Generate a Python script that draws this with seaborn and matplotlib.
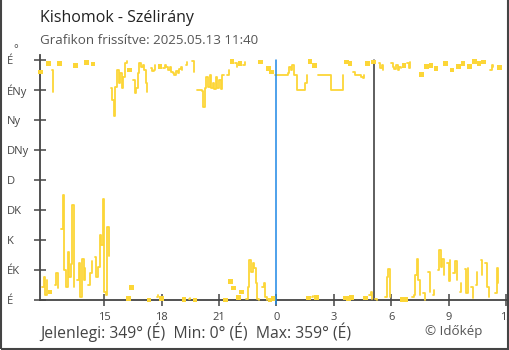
import numpy as np
import pandas as pd
import matplotlib
matplotlib.use("Agg")
import matplotlib.pyplot as plt
import seaborn as sns
from matplotlib.patches import Rectangle

# ---------------- data ----------------
start_hour = 11 + 40 / 60          # first reading 11:40 (previous day)
step_minutes = 5
direction = [
    # 11:40
    342, 20, 35, 8, 30, 355, 12, 345, 312, 22, 40, 18,
    # 12:40
    355, 107, 158, 45, 20, 72, 35, 54, 143, 20, 352, 30,
    # 13:40
    55, 5, 62, 30, 48, 356, 22, 40, 58, 354, 65, 35,
    # 14:40
    50, 97, 82, 152, 12, 8, 110, 66, 318, 300, 276, 320,
    # 15:40
    345, 325, 340, 318, 335, 355, 358, 2, 345, 19, 330, 310,
    # 16:40
    318, 340, 355, 350, 352, 345, 325, 312, 0, 348, 343, 345,
    # 17:40
    352, 5, 8, 350, 2, 348, 352, 350, 345, 349, 342, 340,
    # 18:40
    338, 343, 340, 346, 350, 345, 1, 352, 357, 1, 3, 358,
    # 19:40
    342, 0, 315, 315, 315, 314, 290, 318, 335, 320, 338, 318,
    # 20:40
    325, 316, 335, 318, 330, 316, 337, 337, 0, 337, 345, 28,
    # 21:40
    358, 18, 355, 350, 4, 355, 12, 352, 357, 2, 20, 60,
    # 22:40
    42, 55, 48, 25, 2, 0, 357, 20, 25, 5, 0, 347,
    # 23:40
    0, 342, 2, 337, 337, 337, 337, 337, 337, 337, 337, 340,
    # 00:40
    350, 345, 352, 337, 337, 315, 315, 315, 315, 315, 325, 337,
    # 01:40
    3, 358, 5, 6, 352, 4, 337, 337, 337, 337, 337, 337,
    # 02:40
    337, 337, 315, 315, 315, 315, 315, 315, 315, 315, 337, 3,
    # 03:40
    357, 2, 355, 4, 342, 337, 337, 337, 337, 335, 333, 337,
    # 04:40
    3, 355, 8, 12, 1, 357, 1, 0, 355, 348, 352, 345,
    # 05:40
    5, 35, 47, 4, 355, 350, 347, 352, 345, 350, 348, 1,
    # 06:40
    352, 1, 355, 348, 357, 5, 8, 37, 62, 30, 8, 338,
    # 07:40
    10, 0, 350, 42, 12, 352, 8, 15, 347, 45, 75, 50,
    # 08:40
    62, 38, 355, 55, 28, 60, 345, 40, 58, 30, 350, 12,
    # 09:40
    25, 355, 47, 10, 48, 350, 20, 3, 358, 22, 42, 355,
    # 10:40
    60, 38, 357, 55, 20, 5, 345, 352, 350, 10, 48, 25, 349,
]

dir_ticks = [0, 45, 90, 135, 180, 225, 270, 315, 360]
dir_labels = ["É", "ÉK", "K", "DK", "D", "DNy", "Ny", "ÉNy", "É"]
hour_ticks = [15, 18, 21, 24, 27, 30, 33, 36]
hour_labels = ["15", "18", "21", "0", "3", "6", "9", "12"]
midnight_hour = 24
sunrise_hour = 24 + 5 + 7 / 60

title = "Kishomok - Szélirány"
subtitle = "Grafikon frissítve: 2025.05.13 11:40"
footer = "Jelenlegi: 349° (É)  Min: 0° (É)  Max: 359° (É)"
credit = "© Időkép"

# ---------------- build frame ----------------
hours = start_hour + np.arange(len(direction)) * step_minutes / 60
df = pd.DataFrame({"hour": hours, "dir": direction})
df["band"] = (df["dir"] >= 180).astype(int)
df["seg"] = (df["band"] != df["band"].shift()).cumsum()
seg_len = df.groupby("seg")["dir"].transform("size")
lines = df[seg_len > 1]
singles = df[seg_len == 1]

# ---------------- style ----------------
sns.set_style("white")
plt.rcParams["font.family"] = ["Open Sans", "DejaVu Sans"]

W, H = 510, 350
fig = plt.figure(figsize=(W / 100, H / 100), dpi=100)
ax_l, ax_r, ax_t, ax_b = 40, 508, 55, 300
ax = fig.add_axes([ax_l / W, 1 - ax_b / H, (ax_r - ax_l) / W, (ax_b - ax_t) / H])

yellow = "#FCD637"
axis_col = "#444444"

sns.lineplot(data=lines, x="hour", y="dir", units="seg", estimator=None,
             drawstyle="steps-post", color=yellow, lw=1.3, ax=ax,
             legend=False, clip_on=False, zorder=3)
sns.scatterplot(data=singles, x="hour", y="dir", marker="s", s=11,
                color=yellow, edgecolor="none", ax=ax, legend=False,
                clip_on=False, zorder=3)

ax.set_xlim(11.64, 36.1)
ax.set_ylim(0, 367.5)

ax.plot([midnight_hour, midnight_hour], [360, -6], color="#1E88E5", lw=1.1,
        clip_on=False, zorder=4)
ax.plot([sunrise_hour, sunrise_hour], [360, 0], color="#333333", lw=1.1,
        clip_on=False, zorder=2)

ax.set_xticks(hour_ticks)
ax.set_xticklabels(hour_labels)
ax.set_yticks(dir_ticks)
ax.set_yticklabels(dir_labels)
ax.set_xlabel("")
ax.set_ylabel("")

for s in ["top", "right"]:
    ax.spines[s].set_visible(False)
for s in ["left", "bottom"]:
    ax.spines[s].set_color(axis_col)
    ax.spines[s].set_linewidth(1.3)

ax.tick_params(axis="both", which="major", bottom=True, left=True,
               direction="inout", length=8.6, width=1.1,
               color=axis_col, labelcolor="#444444", labelsize=8)
ax.tick_params(axis="x", pad=4)
ax.tick_params(axis="y", pad=19.5)
for lab in ax.get_yticklabels():
    lab.set_horizontalalignment("left")

# texts
fig.text(40 / W, 1 - 18 / H, title, fontsize=11.5, color="#222222",
         va="center", ha="left")
fig.text(40 / W, 1 - 40 / H, subtitle, fontsize=9.6, color="#555555",
         va="center", ha="left")
fig.text(13 / W, 1 - 50 / H, "°", fontsize=8, color="#444444",
         va="center", ha="left")
fig.text(40 / W, 1 - 332 / H, footer, fontsize=11.3, color="#444444",
         va="center", ha="left")
fig.text(425 / W, 1 - 331 / H, credit, fontsize=9.6, color="#555555",
         va="center", ha="left")

# outer frame
fig.patches.append(Rectangle((0.5 / W, 1.5 / H), 508 / W, 350 / H,
                             transform=fig.transFigure, fill=False,
                             edgecolor="#444444", lw=1.5))

fig.savefig("out.png", dpi=100)
